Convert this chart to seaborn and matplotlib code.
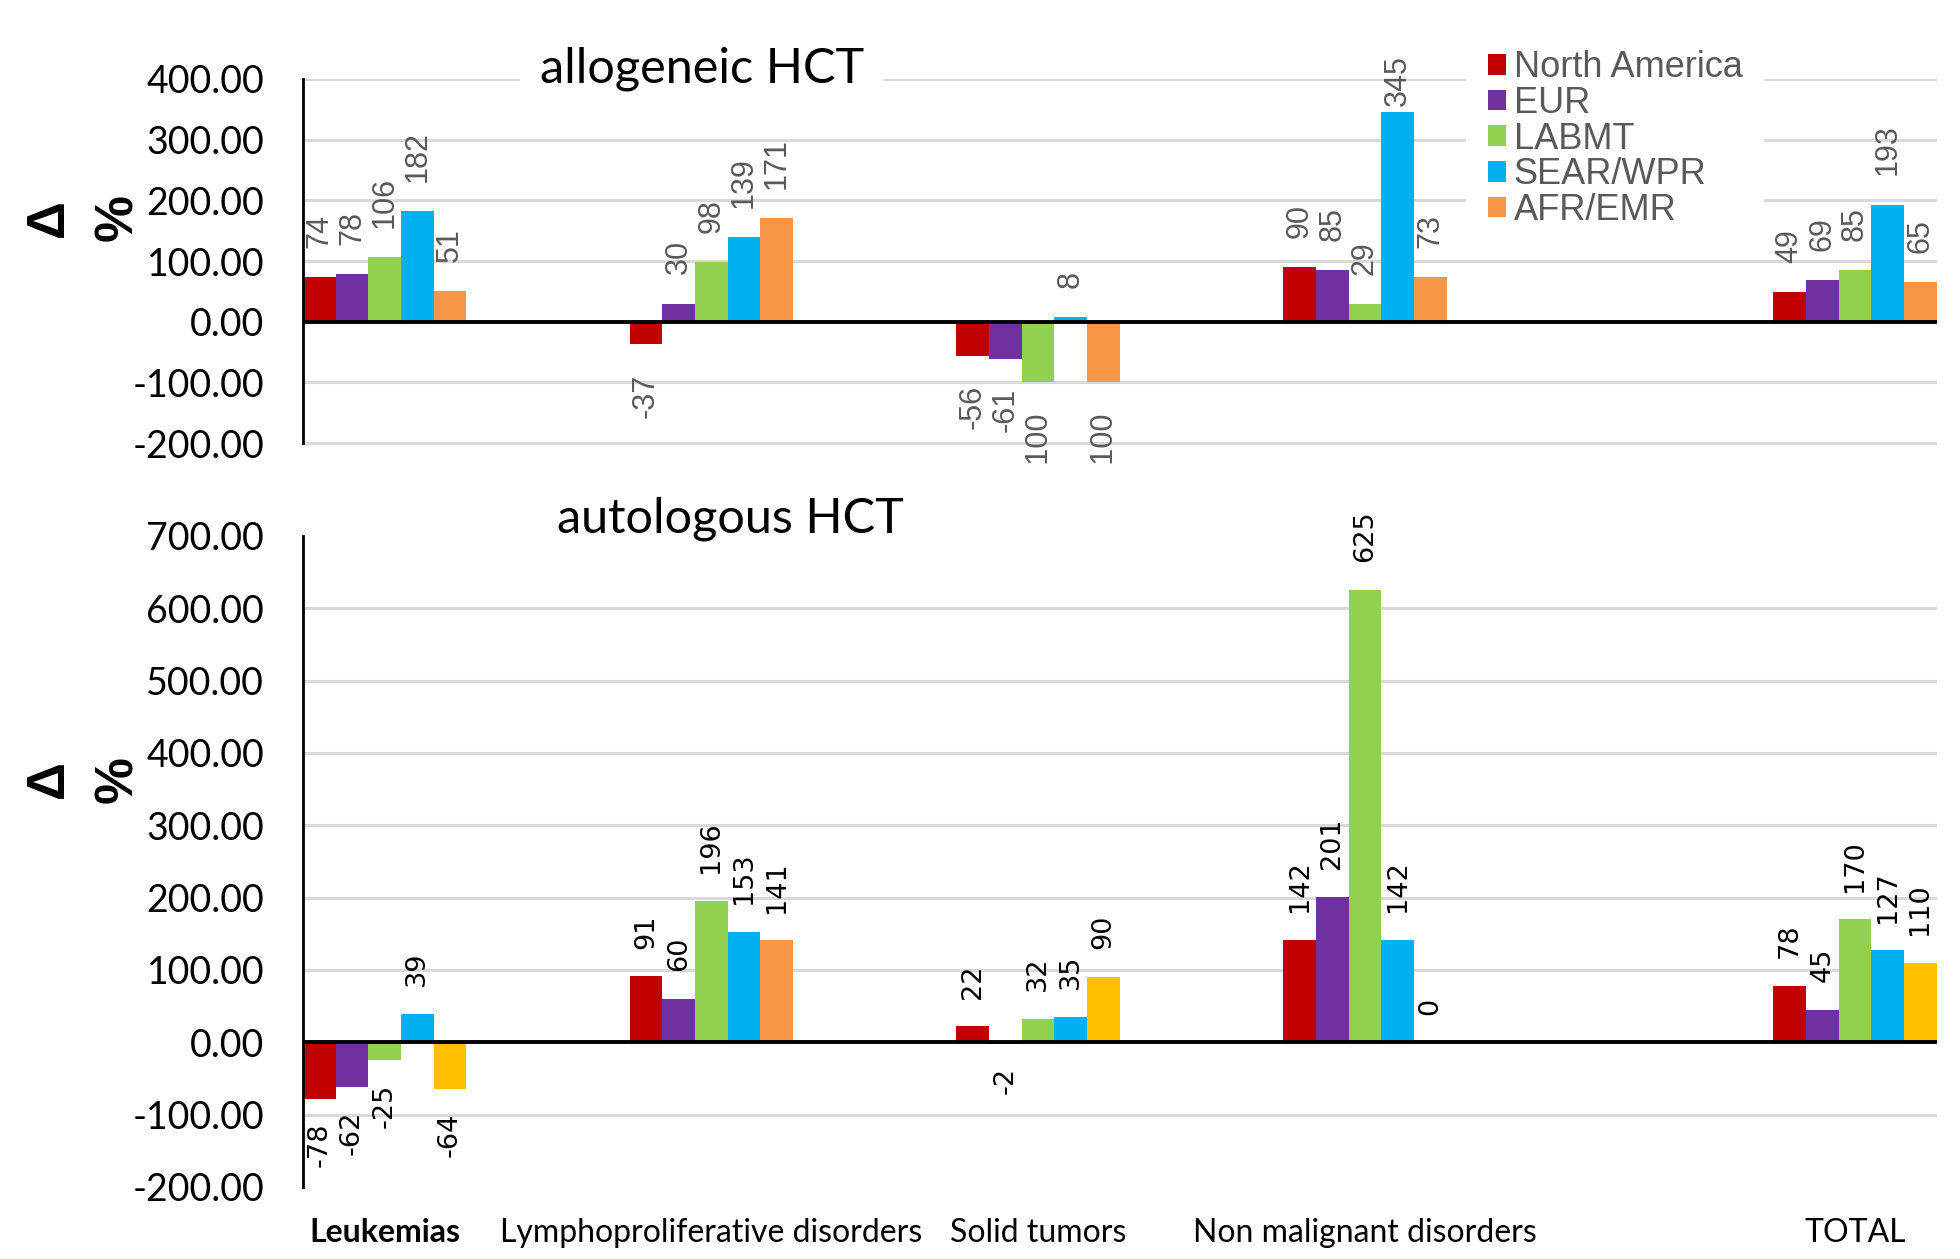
import matplotlib
matplotlib.use('Agg')
import matplotlib.pyplot as plt
from matplotlib.patches import Patch
from matplotlib.ticker import StrMethodFormatter
import pandas as pd
import seaborn as sns

categories = ['Leukemias', 'Lymphoproliferative disorders', 'Solid tumors',
              'Non malignant disorders', 'TOTAL']
regions = ['North America', 'EUR', 'LABMT', 'SEAR/WPR', 'AFR/EMR']

# allogeneic HCT, change in %
allo_north_america = [74, -37, -56, 90, 49]
allo_eur = [78, 30, -61, 85, 69]
allo_labmt = [106, 98, -100, 29, 85]
allo_sear_wpr = [182, 139, 8, 345, 193]
allo_afr_emr = [51, 171, -100, 73, 65]

# autologous HCT, change in %
auto_north_america = [-78, 91, 22, 142, 78]
auto_eur = [-62, 60, -2, 201, 45]
auto_labmt = [-25, 196, 32, 625, 170]
auto_sear_wpr = [39, 153, 35, 142, 127]
auto_afr_emr = [-64, 141, 90, 0, 110]

# layout: TOTAL group sits a bit further out
group_pos = [0, 1, 2, 3, 4.5]

pal_top = ['#C00000', '#7030A0', '#92D050', '#00B0F0', '#F79646']
pal_bot = ['#C00000', '#7030A0', '#92D050', '#00B0F0', '#FFC000']
orange = '#F79646'

CAL = ['Lato', 'DejaVu Sans']
ARIAL = ['Liberation Sans', 'DejaVu Sans']
DPI = 100
FIG_H = 12.59


def make_df(series):
    rows = []
    for reg, vals in zip(regions, series):
        for cat, pos, v in zip(categories, group_pos, vals):
            rows.append({'category': cat, 'pos': pos, 'region': reg, 'value': v})
    return pd.DataFrame(rows)


df_allo = make_df([allo_north_america, allo_eur, allo_labmt, allo_sear_wpr, allo_afr_emr])
df_auto = make_df([auto_north_america, auto_eur, auto_labmt, auto_sear_wpr, auto_afr_emr])

sns.set_theme(style='white')
plt.rcParams['font.family'] = CAL
plt.rcParams['axes.unicode_minus'] = False

fig = plt.figure(figsize=(19.6, FIG_H), dpi=DPI)
ax_top = fig.add_axes([0.1546, 0.6307, 0.8335, 0.3066])
ax_bot = fig.add_axes([0.1546, 0.0572, 0.8335, 0.5171])


def draw_panel(ax, df, pal, ylim, yticks, lab_kw, pad_pos, pad_neg, clip_neg):
    sns.barplot(data=df, x='pos', y='value', hue='region', hue_order=regions,
                palette=pal, native_scale=True, width=0.5, saturation=1,
                errorbar=None, linewidth=0, legend=False, ax=ax)
    ax.set_xlim(-0.25, 4.75)
    ax.set_ylim(*ylim)
    ax.set_yticks(yticks)
    ax.yaxis.set_major_formatter(StrMethodFormatter('{x:.2f}'))
    ax.set_xlabel('')
    ax.set_ylabel('')
    ax.set_axisbelow(True)
    ax.yaxis.grid(True, color='#D9D9D9', lw=2.2)
    ax.axhline(0, color='black', lw=2.8, zorder=3)
    for s in ['top', 'right', 'bottom']:
        ax.spines[s].set_visible(False)
    ax.spines['left'].set_color('black')
    ax.spines['left'].set_linewidth(2)
    ax.spines['left'].set_bounds(yticks[0], yticks[-1])
    ax.tick_params(axis='y', length=0, pad=28, labelsize=27, labelcolor='black')
    for lab in ax.get_yticklabels():
        lab.set_family(CAL)

    # value labels, rotated, outside the bar end
    anns = []
    for cont in ax.containers:
        for bar, val in zip(cont.patches, cont.datavalues):
            x = bar.get_x() + bar.get_width() / 2
            if val >= 0:
                a = ax.annotate(f'{val:.0f}', (x, val), xytext=(0, pad_pos),
                                textcoords='offset points', rotation=90,
                                ha='center', va='bottom', **lab_kw)
            else:
                a = ax.annotate(f'{val:.0f}', (x, val), xytext=(0, -pad_neg),
                                textcoords='offset points', rotation=90,
                                ha='center', va='top', clip_on=clip_neg, **lab_kw)
            anns.append((a, val))
    return anns


anns_top = draw_panel(ax_top, df_allo, pal_top, (-236, 400), list(range(-200, 401, 100)),
                      dict(fontsize=22, color='#595959', family=ARIAL), 21, 21, True)
draw_panel(ax_bot, df_auto, pal_bot, (-200, 700), list(range(-200, 701, 100)),
           dict(fontsize=19.5, color='black', family=['DejaVu Sans']), 20, 17, False)

# lympho AFR/EMR bar in the autologous panel is orange
ax_bot.containers[4].patches[1].set_facecolor(orange)

# no gridline at the top and bottom of the autologous panel
glines = ax_bot.yaxis.get_gridlines()
glines[0].set_visible(False)
glines[-1].set_visible(False)

ax_top.set_xticks([])
ax_bot.set_xticks(group_pos)
ax_bot.set_xticklabels(categories)
ax_bot.tick_params(axis='x', length=0, pad=22, labelsize=23, labelcolor='black')
for lab in ax_bot.get_xticklabels():
    lab.set_family(CAL)
ax_bot.get_xticklabels()[0].set_fontweight('bold')

# titles
fig.text(0.358, 0.945, 'allogeneic HCT', ha='center', va='center', fontsize=35,
         family=CAL, color='black',
         bbox=dict(facecolor='white', edgecolor='none', boxstyle='square,pad=0.4'))
fig.text(0.3725, 0.588, 'autologous HCT', ha='center', va='center', fontsize=35,
         family=CAL, color='black')

# Δ % axis labels
for yy in [0.8268, 0.381]:
    fig.text(0.0425, yy, 'Δ\n%', rotation=90, ha='center', va='center',
             fontsize=38, fontweight='bold', family=ARIAL, linespacing=1.5,
             multialignment='center', color='black')

handles = [Patch(facecolor=c, edgecolor='none', label=r) for r, c in zip(regions, pal_top)]
leg = fig.legend(handles=handles, loc='upper left', bbox_to_anchor=(0.748, 0.9774),
                 frameon=True, facecolor='white', edgecolor='none', framealpha=1,
                 fancybox=False, borderaxespad=0, borderpad=0.6, labelspacing=0.02,
                 handlelength=0.5, handleheight=0.5, handletextpad=0.22,
                 prop={'family': ARIAL, 'size': 26}, labelcolor='#595959')

# labels that would run off the top of the chart area are pulled back in
fig.canvas.draw()
top_limit = (FIG_H - 0.55) * DPI
for a, val in anns_top:
    if val >= 0:
        y1 = a.get_window_extent().y1
        if y1 > top_limit:
            dx, dy = a.xyann
            a.xyann = (dx, dy - (y1 - top_limit) * 72 / DPI)

fig.savefig('out.png', dpi=DPI)
